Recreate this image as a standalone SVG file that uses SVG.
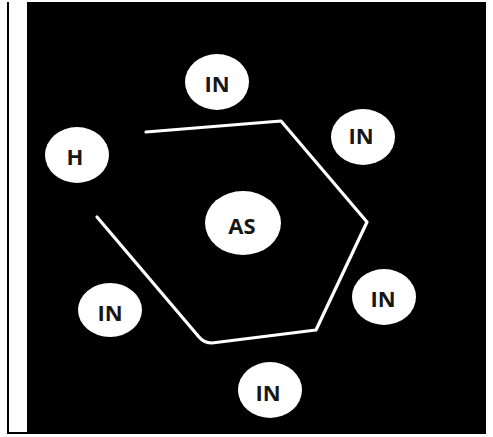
<svg xmlns="http://www.w3.org/2000/svg" width="493" height="437" viewBox="0 0 493 437">
<style>
.node ellipse{fill:#ffffff}
.node text{font-family:"Open Sans","Liberation Sans",sans-serif;font-weight:700;font-size:22px;fill:#161616;text-anchor:middle;dominant-baseline:central}
.edge{fill:none;stroke:#ffffff;stroke-width:3.2;stroke-linejoin:round;stroke-linecap:round}
</style>
<rect x="0" y="0" width="493" height="437" fill="#ffffff"/>
<rect x="7" y="2" width="479" height="432" fill="#000000"/>
<rect x="9" y="2" width="18" height="430" fill="#ffffff"/>
<g id="connectors">
<path class="edge" d="M97,217 L199,337 Q204,343 212,343 L316,330 L367,222 L281,121 L146,132"/>
</g>
<g id="node-in-top" class="node"><ellipse cx="217" cy="82" rx="32" ry="28"/><text x="217" y="83">IN</text></g>
<g id="node-h" class="node"><ellipse cx="77" cy="155" rx="32" ry="28"/><text x="75" y="156">H</text></g>
<g id="node-as" class="node"><ellipse cx="243" cy="223" rx="38" ry="32"/><text x="242" y="225">AS</text></g>
<g id="node-in-right-top" class="node"><ellipse cx="363" cy="137" rx="32" ry="28"/><text x="361" y="135">IN</text></g>
<g id="node-in-right-bottom" class="node"><ellipse cx="384" cy="297" rx="32" ry="28"/><text x="383" y="298">IN</text></g>
<g id="node-in-bottom" class="node"><ellipse cx="270" cy="390" rx="32" ry="28"/><text x="268" y="392">IN</text></g>
<g id="node-in-left-bottom" class="node"><ellipse cx="110" cy="310" rx="32" ry="27"/><text x="110" y="312">IN</text></g>
</svg>
